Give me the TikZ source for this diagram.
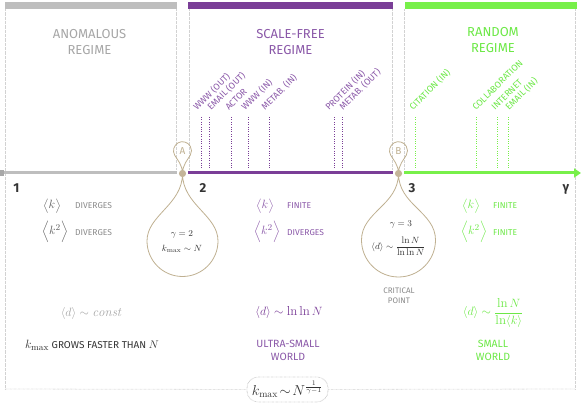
\documentclass[tikz,border=0pt]{standalone}
\usepackage{fontspec}
\usepackage{amsmath}
\usetikzlibrary{arrows.meta}
\newfontfamily\din{Fira Sans}
\definecolor{cGrayBar}{HTML}{BEBEBE}
\definecolor{cGrayEnd}{HTML}{A8A8A8}
\definecolor{cGrayTxt}{HTML}{A6A6A6}
\definecolor{cGrayMid}{HTML}{8A8A8A}
\definecolor{cDark}{HTML}{333333}
\definecolor{cPurple}{HTML}{7A3E97}
\definecolor{cPurpleTxt}{HTML}{8A58A8}
\definecolor{cGreen}{HTML}{78F04A}
\definecolor{cGreenTxt}{HTML}{6CE846}
\definecolor{cTan}{HTML}{BFB091}
\definecolor{cTanFill}{HTML}{C4B599}
\definecolor{cDot}{HTML}{D2D2D2}
\definecolor{cDotBox}{HTML}{C4C4C4}
\begin{document}
\begin{tikzpicture}[x=1pt,y=1pt,
  regline/.style={draw=cDot, line width=0.8pt, dash pattern=on 0.5pt off 0.8pt},
  markline/.style={line width=0.8pt, dash pattern=on 0.8pt off 1.6pt},
  bar/.style={line width=6.5pt},
  axisbar/.style={line width=3pt},
  title/.style={font=\din\fontsize{13}{15.5}\selectfont, align=center, inner sep=0pt},
  netlabel/.style={font=\din\fontsize{9}{10}\selectfont, rotate=45, anchor=base west, inner sep=0pt},
  word/.style={font=\din\fontsize{8.5}{10}\selectfont, anchor=west, inner sep=0pt},
  big/.style={font=\din\fontsize{10.5}{13}\selectfont, align=center, inner sep=0pt},
  mth/.style={font=\fontsize{13}{15}\selectfont, inner sep=0pt},
  axnum/.style={font=\din\bfseries\fontsize{13}{15}\selectfont, text=cDark, inner sep=0pt},
  tear/.style={draw=cTan, line width=0.8pt},
  inner/.style={font=\fontsize{9.5}{11}\selectfont, inner sep=0pt},
  letter/.style={font=\din\fontsize{10}{12}\selectfont, text=cTan, inner sep=0pt}
]
\useasboundingbox (0,0) rectangle (581,-414);

% ---------- region outlines (dotted) ----------
\coordinate (tl) at (5,-9);
\coordinate (bl) at (5,-389);
\coordinate (tr) at (575,-9);
\coordinate (br) at (575,-389);
\draw[regline] (tl) -- (bl);
\draw[regline] (tr) -- (br);
\draw[regline] (176,-9) -- (176,-170);
\draw[regline] (189,-9) -- (189,-170);
\draw[regline] (392.5,-9) -- (392.5,-170);
\draw[regline] (404.5,-9) -- (404.5,-170);

% ---------- top bars ----------
\draw[bar, cGrayBar] (5,-5.5) -- (177,-5.5);
\draw[bar, cPurple] (188,-5.5) -- (393,-5.5);
\draw[bar, cGreen] (405,-5.5) -- (577,-5.5);

% ---------- titles ----------
\node[title, text=cGrayTxt] (t1) at (89.5,-42) {ANOMALOUS\\REGIME};
\node[title, text=cPurpleTxt] (t2) at (290.5,-42) {SCALE-FREE\\REGIME};
\node[title, text=cGreenTxt] (t3) at (493,-40) {RANDOM\\REGIME};

% ---------- network markers ----------
\foreach \xx/\lx/\lab [count=\i] in {201/197/WWW (OUT),209/211/EMAIL (OUT),231/229/ACTOR,248/245/WWW (IN),269/265/METAB. (IN),334/329/PROTEIN (IN),342/343/METAB. (OUT)}{
  \draw[markline, cPurple] (\xx,-117) -- (\xx,-169);
  \node[netlabel, text=cPurpleTxt] (mp\i) at (\lx,-111) {\lab};
}
\foreach \xx/\lx/\lab [count=\i] in {415/413/CITATION (IN),476/476/COLLABORATION,497/495/INTERNET,508/509/EMAIL (IN)}{
  \draw[markline, cGreen] (\xx,-117) -- (\xx,-169);
  \node[netlabel, text=cGreenTxt] (mg\i) at (\lx,-111) {\lab};
}

% ---------- axis ----------
\coordinate (ax0) at (0,-173);
\coordinate (ax1) at (177,-173);
\coordinate (ax2) at (188,-173);
\coordinate (ax3) at (393,-173);
\coordinate (ax4) at (404,-173);
\coordinate (ax5) at (581,-173);
\draw[axisbar, cGrayBar] (ax0) -- (ax1);
\fill[cGrayEnd] (0,-170) rectangle (4,-176);
\draw[axisbar, cPurple] (ax2) -- (ax3);
\draw[axisbar, cGreen, -{Triangle[length=7pt,width=9pt]}] (ax4) -- (ax5);

\node[axnum] (n1) at (16.5,-188) {1};
\node[axnum] (n2) at (203,-188) {2};
\node[axnum] (n3) at (412,-188) {3};
\node[axnum] (ng) at (566,-189) {γ};

% ---------- teardrop A ----------
\coordinate (dA) at (182.5,-173.5);
\draw[tear] (dA) .. controls (182.5,-205) and (147,-215) .. (147,-241)
  arc[start angle=180, end angle=360, radius=35.5]
  .. controls (218,-215) and (182.5,-205) .. (dA);
\draw[tear] (dA) .. controls (182.5,-165) and (177.2,-159.5) .. (174.7,-155.2)
  arc[start angle=210, end angle=-30, radius=9]
  .. controls (187.8,-159.5) and (182.5,-165) .. (dA);
\fill[cTanFill] (dA) circle (3.6);
\node[letter] (lA) at (182.5,-150.7) {A};
\node[inner, text=cDark] (gA) at (182,-234) {$\gamma=2$};
\node[inner, text=cDark] (kA) at (182,-248.5) {$k_{\max}\sim N$};

% ---------- teardrop B ----------
\coordinate (dB) at (398.5,-173.5);
\draw[tear] (dB) .. controls (398.5,-205) and (361.5,-212) .. (361.5,-240)
  arc[start angle=180, end angle=360, radius=37]
  .. controls (435.5,-212) and (398.5,-205) .. (dB);
\draw[tear] (dB) .. controls (398.5,-165) and (393.2,-159.5) .. (390.7,-155.2)
  arc[start angle=210, end angle=-30, radius=9]
  .. controls (403.8,-159.5) and (398.5,-165) .. (dB);
\fill[cTanFill] (dB) circle (3.6);
\node[letter] (lB) at (398.5,-150.7) {B};
\node[inner, text=cDark] (gB) at (401,-224) {$\gamma=3$};
\node[inner, text=cDark] (dBf) at (398.5,-246) {$\langle d\rangle\sim\dfrac{\ln N}{\ln\ln N}$};
\node[font=\din\fontsize{8}{10}\selectfont, text=cGrayMid, align=center, inner sep=0pt] (crit) at (399,-296) {CRITICAL\\POINT};

% ---------- anomalous regime ----------
\node[mth, text=cDark!80] (k1a) at (52,-206) {$\bigl\langle k\bigr\rangle$};
\node[word, text=cGrayMid] (w1a) at (75,-205.5) {DIVERGES};
\node[mth, text=cDark!80] (k2a) at (55,-232) {$\Bigl\langle k^{2}\Bigr\rangle$};
\node[word, text=cGrayMid] (w2a) at (75,-232.5) {DIVERGES};
\node[mth, text=cGrayTxt] (da) at (91,-313) {$\langle d\rangle\sim \mathit{const}$};
\node[font=\din\fontsize{10}{12}\selectfont, text=cDark, inner sep=0pt] (ka) at (92,-345)
  {{\fontsize{13}{15}\selectfont$k_{\max}$} GROWS FASTER THAN {\fontsize{11}{13}\selectfont$N$}};

% ---------- scale-free regime ----------
\node[mth, text=cPurpleTxt] (k1s) at (265,-206) {$\bigl\langle k\bigr\rangle$};
\node[word, text=cPurpleTxt] (w1s) at (287,-205.5) {FINITE};
\node[mth, text=cPurpleTxt] (k2s) at (267,-232) {$\Bigl\langle k^{2}\Bigr\rangle$};
\node[word, text=cPurpleTxt] (w2s) at (287,-232.5) {DIVERGES};
\node[mth, text=cPurple] (ds) at (289,-312) {$\langle d\rangle\sim\ln\ln N$};
\node[big, text=cPurpleTxt] (us) at (288,-350) {ULTRA-SMALL\\WORLD};

% ---------- random regime ----------
\node[mth, text=cGreenTxt] (k1r) at (471,-206) {$\bigl\langle k\bigr\rangle$};
\node[word, text=cGreenTxt] (w1r) at (493,-205.5) {FINITE};
\node[mth, text=cGreenTxt] (k2r) at (474,-232) {$\Bigl\langle k^{2}\Bigr\rangle$};
\node[word, text=cGreenTxt] (w2r) at (493,-232.5) {FINITE};
\node[mth, text=cGreenTxt] (dr) at (493,-313) {$\langle d\rangle\sim\dfrac{\ln N}{\ln\langle k\rangle}$};
\node[big, text=cGreenTxt] (sr) at (493,-350) {SMALL\\WORLD};

% ---------- bottom box ----------
\node[draw=cDotBox, line width=0.8pt, dash pattern=on 0.5pt off 0.8pt, rounded corners=11pt,
  minimum width=81pt, minimum height=25pt, inner sep=0pt, font=\fontsize{14}{16}\selectfont, text=cDark]
  (kbox) at (287.5,-389.5) {$k_{\max}\!\sim\! N^{\frac{1}{\gamma-1}}$};
\draw[regline] (bl) -- (kbox.west);
\draw[regline] (kbox.east) -- (br);
\end{tikzpicture}
\end{document}
